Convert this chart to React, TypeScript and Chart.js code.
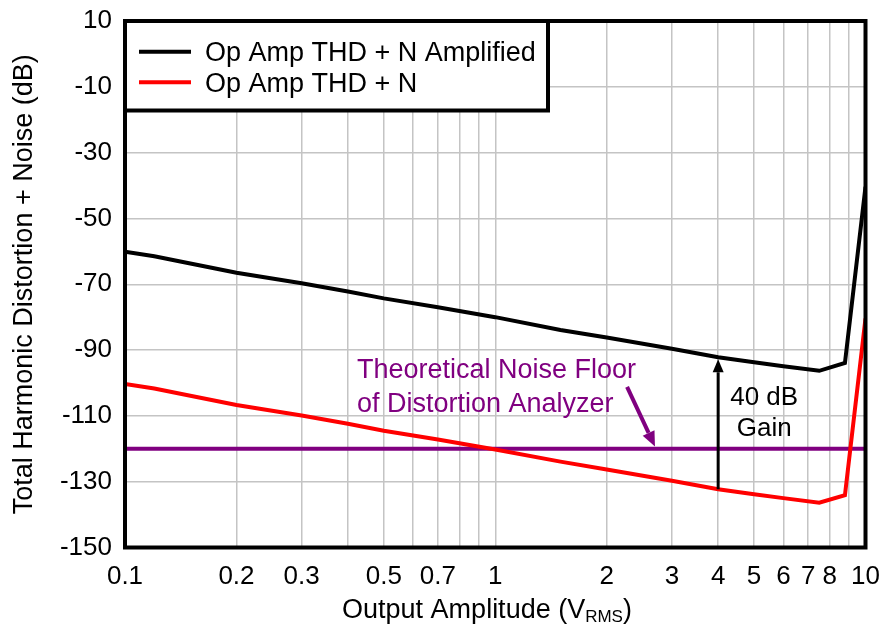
import React, { useEffect, useRef } from 'react';
import { Chart, registerables } from 'chart.js';

Chart.register(...registerables);

// ---- Data ----
const X_VALUES = [0.1, 0.12, 0.14, 0.17, 0.2, 0.3, 0.4, 0.5, 0.7, 1, 1.5, 2, 3, 4, 5, 6, 7.5, 8.8, 10];
const AMPLIFIED_THDN = [-60.1, -61.5, -63.0, -64.9, -66.5, -69.7, -72.2, -74.3, -77.0, -80.0, -83.9, -86.2, -89.6, -92.2, -93.7, -94.9, -96.3, -93.9, -40.4];
const OPAMP_THDN = [-100.3, -101.7, -103.2, -105.1, -106.7, -109.9, -112.4, -114.5, -117.2, -120.2, -123.9, -126.3, -129.7, -132.3, -133.8, -135.0, -136.4, -134.1, -80.4];
const NOISE_FLOOR = -120;
const NOISE_FLOOR_X = [0.1, 10];

const X_GRID = [0.1, 0.2, 0.3, 0.4, 0.5, 0.6, 0.7, 0.8, 0.9, 1, 2, 3, 4, 5, 6, 7, 8, 9, 10];
const X_LABELS = [0.1, 0.2, 0.3, 0.5, 0.7, 1, 2, 3, 4, 5, 6, 7, 8, 10];
const Y_MIN = -150;
const Y_MAX = 10;
const Y_STEP = 20;

const SERIES_LABELS = ['Op Amp THD + N Amplified', 'Op Amp THD + N'];
const GAIN_X = 4;
const NOISE_TEXT = ['Theoretical Noise Floor', 'of Distortion Analyzer'];
const GAIN_TEXT = ['40 dB', 'Gain'];
const Y_TITLE = 'Total Harmonic Distortion + Noise (dB)';
const X_TITLE_MAIN = 'Output Amplitude (V';
const X_TITLE_SUB = 'RMS';
const X_TITLE_END = ')';

// annotation anchors in data units
const NOISE_ARROW_FROM = { x: 2.27, y: -101.2 };
const NOISE_ARROW_TO = { x: 2.7, y: -119.3 };
const NOISE_TEXT_ANCHOR = { x: 0.423, y: -98.6 };

const FONT = '"Liberation Sans", Arial, Helvetica, sans-serif';
const PURPLE = '#800080';
const RED = '#ff0000';
const BLACK = '#000000';
const GRID = '#c4c4c4';

function drawArrow(
  ctx: CanvasRenderingContext2D,
  x0: number, y0: number, x1: number, y1: number,
  color: string, width: number, headLen: number, headW: number
) {
  const ang = Math.atan2(y1 - y0, x1 - x0);
  const bx = x1 - headLen * Math.cos(ang);
  const by = y1 - headLen * Math.sin(ang);
  ctx.strokeStyle = color;
  ctx.lineWidth = width;
  ctx.beginPath();
  ctx.moveTo(x0, y0);
  ctx.lineTo(bx, by);
  ctx.stroke();
  ctx.fillStyle = color;
  ctx.beginPath();
  ctx.moveTo(x1, y1);
  ctx.lineTo(bx + (headW / 2) * Math.sin(ang), by - (headW / 2) * Math.cos(ang));
  ctx.lineTo(bx - (headW / 2) * Math.sin(ang), by + (headW / 2) * Math.cos(ang));
  ctx.closePath();
  ctx.fill();
}

const annotationPlugin = {
  id: 'thdAnnotations',
  afterDatasetsDraw(chart: any) {
    const { ctx, scales } = chart;
    const x = scales.x;
    const y = scales.y;
    ctx.save();

    // Noise floor text
    ctx.fillStyle = PURPLE;
    ctx.font = `27px ${FONT}`;
    ctx.textAlign = 'left';
    ctx.textBaseline = 'alphabetic';
    const tx = x.getPixelForValue(NOISE_TEXT_ANCHOR.x);
    const ty = y.getPixelForValue(NOISE_TEXT_ANCHOR.y);
    ctx.fillText(NOISE_TEXT[0], tx, ty);
    ctx.fillText(NOISE_TEXT[1], tx, ty + 33.5);

    // Purple arrow
    drawArrow(
      ctx,
      x.getPixelForValue(NOISE_ARROW_FROM.x), y.getPixelForValue(NOISE_ARROW_FROM.y),
      x.getPixelForValue(NOISE_ARROW_TO.x), y.getPixelForValue(NOISE_ARROW_TO.y),
      PURPLE, 4, 15, 13
    );

    // Gain arrow
    const gi = X_VALUES.indexOf(GAIN_X);
    const gx = x.getPixelForValue(GAIN_X);
    const gyBottom = y.getPixelForValue(OPAMP_THDN[gi]);
    const gyTop = y.getPixelForValue(AMPLIFIED_THDN[gi]);
    drawArrow(ctx, gx, gyBottom, gx, gyTop + 2, BLACK, 3, 13, 11);

    // Gain text
    ctx.fillStyle = BLACK;
    ctx.font = `26px ${FONT}`;
    ctx.textAlign = 'center';
    ctx.fillText(GAIN_TEXT[0], gx + 46, gyTop + 48);
    ctx.fillText(GAIN_TEXT[1], gx + 46, gyTop + 79);

    ctx.restore();
  },
  afterDraw(chart: any) {
    const { ctx, chartArea: ca, data } = chart;
    ctx.save();

    // Legend box
    const lx = ca.left;
    const ly = ca.top;
    const lw = 423;
    const lh = 89.5;
    ctx.fillStyle = '#ffffff';
    ctx.fillRect(lx, ly, lw, lh);
    ctx.strokeStyle = BLACK;
    ctx.lineWidth = 4;
    ctx.strokeRect(lx, ly, lw, lh);
    ctx.font = `27px ${FONT}`;
    ctx.textAlign = 'left';
    ctx.textBaseline = 'alphabetic';
    for (let i = 0; i < 2; i++) {
      const ds = data.datasets[i];
      const yy = ly + 30.7 + i * 30.6;
      ctx.strokeStyle = ds.borderColor;
      ctx.lineWidth = 4;
      ctx.beginPath();
      ctx.moveTo(lx + 14, yy);
      ctx.lineTo(lx + 66, yy);
      ctx.stroke();
      ctx.fillStyle = BLACK;
      ctx.fillText(ds.label, lx + 80, yy + 9.5);
    }

    // Plot border
    ctx.strokeStyle = BLACK;
    ctx.lineWidth = 4;
    ctx.strokeRect(ca.left, ca.top, ca.right - ca.left, ca.bottom - ca.top);

    // X axis title with subscript
    const mainFont = `27px ${FONT}`;
    const subFont = `17px ${FONT}`;
    ctx.font = mainFont;
    const w1 = ctx.measureText(X_TITLE_MAIN).width;
    const w3 = ctx.measureText(X_TITLE_END).width;
    ctx.font = subFont;
    const w2 = ctx.measureText(X_TITLE_SUB).width;
    const total = w1 + w2 + w3;
    const cx = 487;
    let sx = cx - total / 2;
    const base = 618;
    ctx.fillStyle = BLACK;
    ctx.textAlign = 'left';
    ctx.font = mainFont;
    ctx.fillText(X_TITLE_MAIN, sx, base);
    sx += w1;
    ctx.font = subFont;
    ctx.fillText(X_TITLE_SUB, sx, base + 4);
    sx += w2;
    ctx.font = mainFont;
    ctx.fillText(X_TITLE_END, sx, base);

    ctx.restore();
  },
};

export default function App() {
  const canvasRef = useRef<HTMLCanvasElement | null>(null);

  useEffect(() => {
    const canvas = canvasRef.current;
    if (!canvas) return;
    const chart = new Chart(canvas, {
      type: 'line',
      data: {
        datasets: [
          {
            label: SERIES_LABELS[0],
            data: X_VALUES.map((xv, i) => ({ x: xv, y: AMPLIFIED_THDN[i] })),
            borderColor: BLACK,
            borderWidth: 4,
            pointRadius: 0,
            tension: 0,
            order: 1,
          },
          {
            label: SERIES_LABELS[1],
            data: X_VALUES.map((xv, i) => ({ x: xv, y: OPAMP_THDN[i] })),
            borderColor: RED,
            borderWidth: 4,
            pointRadius: 0,
            tension: 0,
            order: 2,
          },
          {
            label: 'Noise Floor',
            data: NOISE_FLOOR_X.map((xv) => ({ x: xv, y: NOISE_FLOOR })),
            borderColor: PURPLE,
            borderWidth: 4,
            pointRadius: 0,
            tension: 0,
            order: 3,
          },
        ],
      },
      options: {
        responsive: false,
        animation: false,
        devicePixelRatio: 1,
        layout: { padding: { left: 0, right: 17.5, top: 21, bottom: 0 } },
        plugins: {
          legend: { display: false },
          tooltip: { enabled: false },
        },
        scales: {
          x: {
            type: 'logarithmic',
            min: 0.1,
            max: 10,
            afterBuildTicks: (s: any) => {
              s.ticks = X_GRID.map((v) => ({ value: v }));
            },
            afterFit: (s: any) => {
              s.height = 78.5;
              s.paddingLeft = 0;
              s.paddingRight = 0;
            },
            ticks: {
              autoSkip: false,
              maxRotation: 0,
              minRotation: 0,
              padding: 14,
              color: BLACK,
              font: { family: FONT, size: 26 },
              callback: (v: any) => {
                const n = Number(v);
                const hit = X_LABELS.find((l) => Math.abs(l - n) < 1e-9);
                return hit !== undefined ? String(hit) : '';
              },
            },
            grid: { color: GRID, lineWidth: 1.5, drawTicks: false },
            border: { display: false },
          },
          y: {
            type: 'linear',
            min: Y_MIN,
            max: Y_MAX,
            afterFit: (s: any) => {
              s.width = 125;
              s.paddingTop = 0;
              s.paddingBottom = 0;
            },
            ticks: {
              stepSize: Y_STEP,
              padding: 13,
              color: BLACK,
              font: { family: FONT, size: 26 },
            },
            grid: { color: GRID, lineWidth: 1.5, drawTicks: false },
            border: { display: false },
            title: {
              display: true,
              text: Y_TITLE,
              color: BLACK,
              font: { family: FONT, size: 27 },
              padding: { top: 8, bottom: 0 },
            },
          },
        },
      },
      plugins: [annotationPlugin],
    });
    return () => chart.destroy();
  }, []);

  return (
    <div style={{ position: 'absolute', left: 0, top: 0, width: 883, height: 626, background: '#fff' }}>
      <canvas ref={canvasRef} width={883} height={626} style={{ display: 'block' }} />
    </div>
  );
}
